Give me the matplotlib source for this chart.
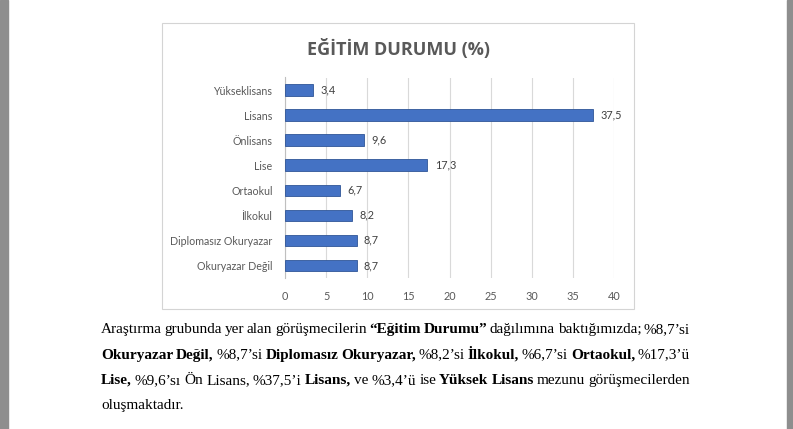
import matplotlib
matplotlib.use("Agg")
import matplotlib.pyplot as plt
from matplotlib.patches import Rectangle

categories = ["Okuryazar Değil", "Diplomasız Okuryazar", "İlkokul", "Ortaokul",
              "Lise", "Önlisans", "Lisans", "Yükseklisans"]
values = [8.7, 8.7, 8.2, 6.7, 17.3, 9.6, 37.5, 3.4]
xticks = [0, 5, 10, 15, 20, 25, 30, 35, 40]

# paragraph under the chart: each line is a list of (word, bold)
para = [
    [("Araştırma", 0), ("grubunda", 0), ("yer", 0), ("alan", 0), ("görüşmecilerin", 0),
     ("“Eğitim", 1), ("Durumu”", 1), ("dağılımına", 0), ("baktığımızda;", 0), ("%8,7’si", 0)],
    [("Okuryazar", 1), ("Değil,", 1), ("%8,7’si", 0), ("Diplomasız", 1),
     ("Okuryazar,", 1), ("%8,2’si", 0), ("İlkokul,", 1), ("%6,7’si", 0),
     ("Ortaokul,", 1), ("%17,3’ü", 0)],
    [("Lise,", 1), ("%9,6’sı", 0), ("Ön", 0), ("Lisans,", 0), ("%37,5’i", 0),
     ("Lisans,", 1), ("ve", 0), ("%3,4’ü", 0), ("ise", 0), ("Yüksek", 1), ("Lisans", 1),
     ("mezunu", 0), ("görüşmecilerden", 0)],
    [("oluşmaktadır.", 0)],
]

W, H = 793, 429
fig = plt.figure(figsize=(W / 100, H / 100), dpi=100)
fig.patch.set_facecolor("white")

def fx(px):
    return px / W

def fy(py):
    return 1 - py / H

# grey page edges and chart frame
fig.add_artist(Rectangle((0, 0), fx(8), 1, transform=fig.transFigure, color="#8e8e8e", zorder=0))
fig.add_artist(Rectangle((fx(787), 0), fx(6), 1, transform=fig.transFigure, color="#8e8e8e", zorder=0))
fig.add_artist(Rectangle((fx(162), fy(309)), fx(634 - 162), fy(23) - fy(309),
                         transform=fig.transFigure, fill=False, ec="#d4d4d4", lw=0.8))

ax = fig.add_axes([fx(285), fy(278), fx(614 - 285), fy(77.5) - fy(278)])
ypos = range(len(categories))
ax.barh(ypos, values, height=0.46, color="#4472C4", ec="#2f5597", lw=0.6, zorder=3)
for y, v in zip(ypos, values):
    ax.text(v + 0.9, y, f"{v:.1f}".replace(".", ","), va="center", ha="left",
            fontsize=7.8, color="#404040", family="Lato")
ax.set_xlim(0, 40)
ax.set_ylim(-0.5, len(categories) - 0.5)
ax.set_xticks(xticks)
ax.set_xticklabels([str(t) for t in xticks], fontsize=7.8, color="#595959", family="Lato")
ax.set_yticks(list(ypos))
ax.set_yticklabels(categories, fontsize=7.7, color="#595959", family="Lato")
ax.tick_params(length=0, pad=9)
ax.tick_params(axis="x", pad=9)
ax.grid(axis="x", color="#d9d9d9", lw=0.8, zorder=0)
for s in ["top", "right", "bottom"]:
    ax.spines[s].set_visible(False)
ax.spines["left"].set_color("#bfbfbf")
ax.spines["left"].set_linewidth(0.8)

fig.text(fx(398), fy(49), "EĞİTİM DURUMU (%)", ha="center", va="center",
         fontsize=13, fontweight="bold", color="#595959", family="Open Sans")

# justified paragraph
renderer = fig.canvas.get_renderer()
left, right = 101, 690
baselines = [333, 358.5, 384, 409.5]
fs = 11

def width(txt, b):
    t = fig.text(0, 0, txt, fontsize=fs, family="Liberation Serif",
                 fontweight="bold" if b else "normal")
    w = t.get_window_extent(renderer).width
    t.remove()
    return w

space = width("a a", 0) - width("aa", 0)
for i, line in enumerate(para):
    widths = [width(txt, b) for txt, b in line]
    if i < len(para) - 1 and len(line) > 1:
        gap = (right - left - sum(widths)) / (len(line) - 1)
    else:
        gap = space
    x = left
    for (txt, b), ww in zip(line, widths):
        fig.text(fx(x), fy(baselines[i]), txt, fontsize=fs, family="Liberation Serif",
                 fontweight="bold" if b else "normal", va="baseline", ha="left", color="black")
        x += ww + gap

fig.savefig("out.png", dpi=100)
